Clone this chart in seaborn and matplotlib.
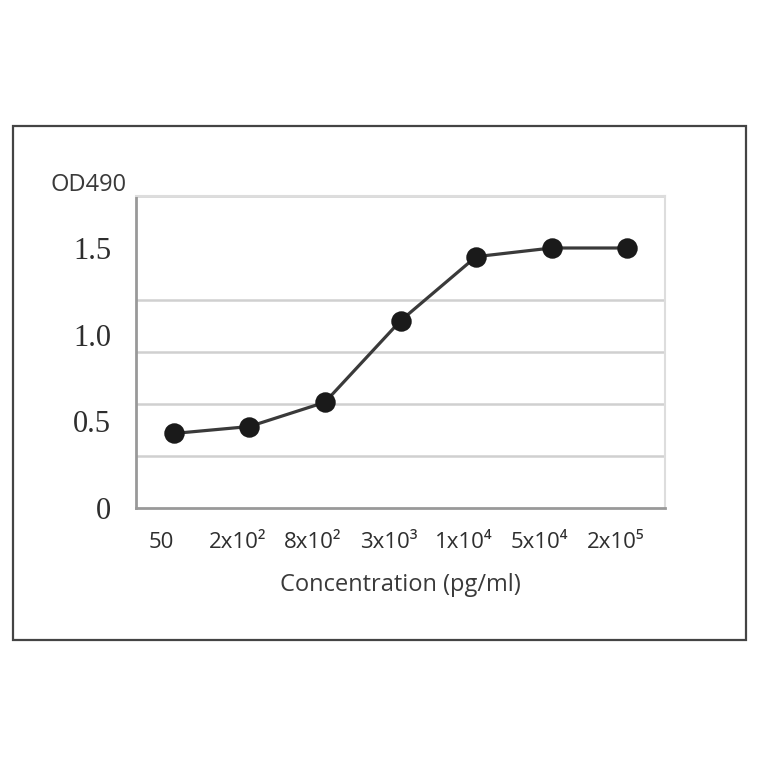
import numpy as np
import pandas as pd
import matplotlib
matplotlib.use("Agg")
import matplotlib.pyplot as plt
from matplotlib.patches import Rectangle
from matplotlib.ticker import MultipleLocator
from matplotlib.transforms import ScaledTranslation
import seaborn as sns

sns.set_style("white")
plt.rcParams['font.family'] = ['Open Sans', 'DejaVu Sans']

concentrations = ['50', '2x10²', '8x10²', '3x10³', '1x10⁴', '5x10⁴', '2x10⁵']
od490 = [0.43, 0.47, 0.61, 1.08, 1.45, 1.50, 1.50]
ytick_values = [0, 0.5, 1.0, 1.5]
ytick_labels = ['0', '0.5', '1.0', '1.5']

df = pd.DataFrame({'conc': concentrations, 'od': od490})

fig = plt.figure(figsize=(7.64, 7.64), dpi=100)
fig.patches.append(Rectangle((13 / 764, 1 - 640 / 764), 733 / 764, 514 / 764,
                             transform=fig.transFigure, fill=False,
                             edgecolor='#444444', linewidth=1.6))

ax = fig.add_axes([136 / 764, 1 - 508 / 764, 529 / 764, 312 / 764])

sns.pointplot(data=df, x='conc', y='od', color='#222222', markers='o',
              markersize=13, linewidth=2.3, ax=ax)
ax.lines[0].set_color('#3a3a3a')
ax.lines[0].set_markerfacecolor('#1a1a1a')
ax.lines[0].set_markeredgecolor('#1a1a1a')

ax.set_xlim(-0.5, len(concentrations) - 0.5)
ax.set_ylim(0, 1.8)
ax.set_yticks(ytick_values)
ax.set_yticklabels(ytick_labels, family=['Liberation Serif', 'DejaVu Serif'],
                   fontsize=22, color='#2e2e2e')
ax.yaxis.set_minor_locator(MultipleLocator(0.3))
ax.grid(False)
ax.grid(which='minor', axis='y', color='#d0d0d0', linewidth=1.8)
ax.tick_params(axis='both', which='both', length=0)
ax.tick_params(axis='y', pad=18)
ax.tick_params(axis='x', pad=17, labelsize=16, labelcolor='#2e2e2e')

# tick labels sit a little left of the points in the original
shift = ScaledTranslation(-12 / 100, 0, fig.dpi_scale_trans)
for lab in ax.get_xticklabels():
    lab.set_transform(lab.get_transform() + shift)

for side in ['left', 'bottom']:
    ax.spines[side].set_color('#999999')
    ax.spines[side].set_linewidth(2)
for side in ['top', 'right']:
    ax.spines[side].set_color('#dddddd')
    ax.spines[side].set_linewidth(1.5)

ax.set_xlabel('Concentration (pg/ml)', fontsize=17, color='#3a3a3a', labelpad=15)
ax.set_ylabel('')
fig.text(51 / 764, 1 - 185 / 764, 'OD490', fontsize=17, color='#3a3a3a',
         ha='left', va='center')

fig.savefig('out.png', dpi=100, facecolor='white')
